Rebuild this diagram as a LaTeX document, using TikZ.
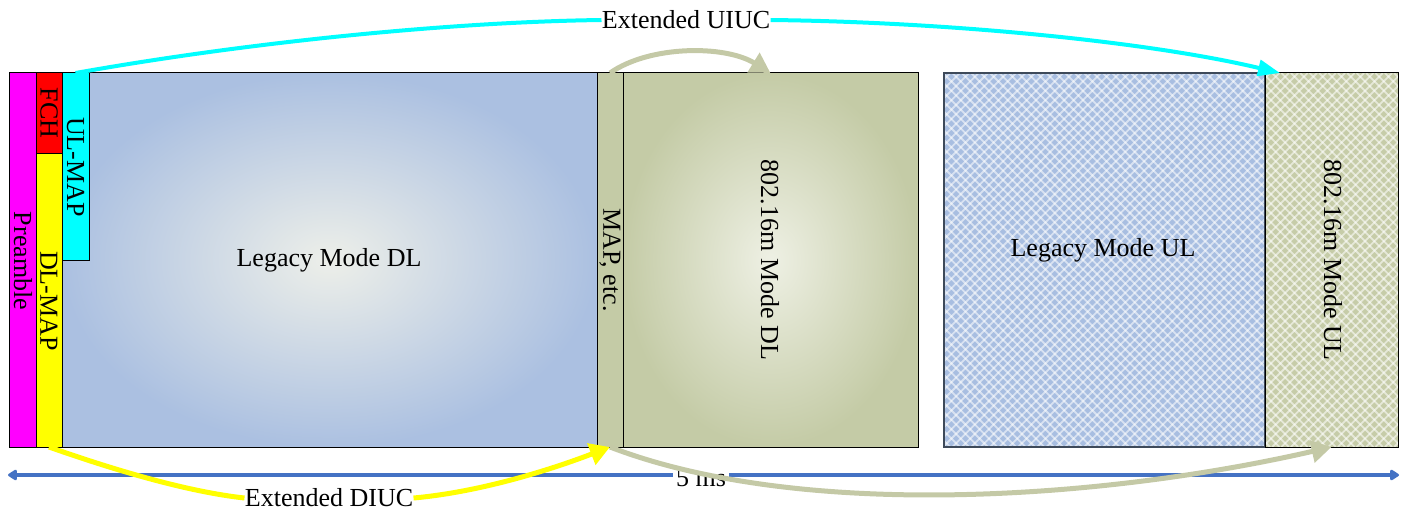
\documentclass[tikz,border=0pt]{standalone}
\usepackage{fontspec}
\setmainfont{Liberation Serif}
\usetikzlibrary{arrows.meta}

\definecolor{legblue}{HTML}{ABC0E1}
\definecolor{legglow}{HTML}{EDEFE9}
\definecolor{olive}{HTML}{C4CBA6}
\definecolor{oliveglow}{HTML}{EEF0E4}
\definecolor{hatchblue}{HTML}{A8BEE1}
\definecolor{hatcholive}{HTML}{C6CCA8}
\definecolor{arrowolive}{HTML}{C4C9A6}
\definecolor{spanblue}{HTML}{4472C4}
\definecolor{slateedge}{HTML}{3E4A5A}
\definecolor{pureyellow}{HTML}{FFFF00}
\definecolor{purecyan}{HTML}{00FFFF}
\definecolor{puremagenta}{HTML}{FF00FF}
\definecolor{purered}{HTML}{FF0000}

\tikzset{
  blk/.style={draw=black, line width=0.5pt, inner sep=0pt, outer sep=0pt},
  wh/.style 2 args={minimum width=#1*0.5pt, minimum height=#2*0.5pt},
  lbl/.style={font=\fontsize{13}{15}\selectfont, inner sep=1pt},
  vlbl/.style={lbl, rotate=-90},
  tag/.style={lbl, fill=white, inner sep=1.5pt},
  hatchline/.style={white, opacity=0.55, line width=0.9pt},
  diuc/.style={pureyellow, line width=2.5pt, -{Triangle[length=10pt,width=11pt]}},
  uiuc/.style={purecyan, line width=2pt, -{Triangle[length=11pt,width=8pt]}},
  remap/.style={arrowolive, line width=2.5pt, -{Triangle[length=10pt,width=11pt]}},
  span/.style={spanblue, line width=2pt,
    {Triangle[length=5pt,width=6pt,round]}-{Triangle[length=5pt,width=6pt,round]}}
}

\begin{document}
\begin{tikzpicture}[x=0.5pt, y=-0.5pt]
\useasboundingbox (0,0) rectangle (1406,519);

% downlink subframe
\node[blk, fill=puremagenta, wh={27}{374}] (pre) at (22.5,260) {};
\node[blk, fill=purered, wh={26}{80}] (fch) at (49,113) {};
\node[blk, fill=pureyellow, wh={26}{294}] (dlmap) at (49,300) {};
\node[blk, shading=radial, inner color=legglow, outer color=legblue, wh={535}{374}] (ldl) at (329.5,260) {};
\node[blk, fill=purecyan, wh={27}{187}] (ulmap) at (75.5,166.5) {};
\node[blk, fill=olive, wh={26}{374}] (map) at (610,260) {};
\node[blk, shading=radial, inner color=oliveglow, outer color=olive, wh={295}{374}] (mdl) at (770.5,260) {};

% uplink subframe
\node[blk, draw=none, fill=hatchblue, wh={321}{374}] (lul) at (1104.5,260) {};
\node[blk, draw=none, fill=hatcholive, wh={133}{374}] (mul) at (1331.5,260) {};
\begin{scope}
  \clip (lul.south west) rectangle (mul.north east);
  \foreach \c in {520,529.4,...,1400} {
    \draw[hatchline] (\c,447) -- ++(374,-374);
    \draw[hatchline] (\c,73) -- ++(374,374);
  }
\end{scope}
\draw[line width=0.6pt, draw=slateedge] (lul.south west) rectangle (lul.north east);
\draw[line width=0.5pt] (mul.south west) rectangle (mul.north east);

% block labels
\node[vlbl] at (23,261) {Preamble};
\node[vlbl] at (49,113) {FCH};
\node[vlbl] at (49,301) {DL-MAP};
\node[vlbl] at (75.5,167) {UL-MAP};
\node[lbl] at (329,260) {Legacy Mode DL};
\node[vlbl] at (610,260) {MAP, etc.};
\node[vlbl] at (770,260) {802.16m Mode DL};
\node[lbl] at (1103,250) {Legacy Mode UL};
\node[vlbl] at (1333,260) {802.16m Mode UL};

% frame duration
\coordinate (spanL) at (8,475);
\coordinate (spanR) at (1399,475);
\draw[span] (spanL) -- (spanR);
\node[tag] (dur) at (701,478) {5 ms};

% extended codes
\node[tag, inner sep=0pt] (diucL) at (329,498) {Extended DIUC};
\draw[diuc, -] (dlmap.south) .. controls (120,472) and (190,492) .. (diucL.west);
\draw[diuc] (diucL.east) .. controls (480,492) and (550,470) .. (map.south);

\node[tag, inner sep=0pt] (uiucL) at (686,20) {Extended UIUC};
\coordinate (ulTarget) at (1280,73);
\draw[uiuc, -] (ulmap.north) .. controls (250,42) and (450,22) .. (uiucL.west);
\draw[uiuc] (uiucL.east) .. controls (950,22) and (1150,42) .. (ulTarget);

% relocated map arrows
\draw[remap] (map.north) .. controls (650,45) and (725,45) .. (mdl.north);
\draw[remap] (map.south) .. controls (800,520) and (1100,500) .. (mul.south);
\end{tikzpicture}
\end{document}
